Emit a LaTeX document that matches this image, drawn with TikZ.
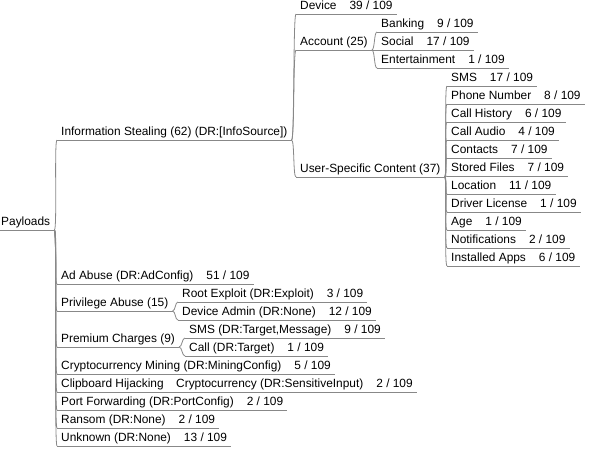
\documentclass[tikz,border=0pt]{standalone}
\usepackage{fontspec}
\setmainfont{Liberation Sans}
\definecolor{linegray}{RGB}{136,136,136}
\newcommand\ofall[1]{\hspace{13pt}#1 / 109}

\begin{document}
\begin{tikzpicture}[
    x=1pt, y=-1pt,
    every node/.style={anchor=south west, inner xsep=4pt, inner ysep=4pt, text depth=0pt,
      font=\fontsize{11.9}{14}\selectfont},
    link/.style={draw=linegray, line width=0.8pt,
      to path={.. controls +(3,0) and +(-3,0) .. (\tikztotarget)}},
    uline/.style={draw=linegray, line width=0.8pt}
  ]
  \useasboundingbox (0,0) rectangle (595,451);

  % root
  \node (pay) at (-3,230) {Payloads};

  % information stealing
  \node (info) at (57,140) {Information Stealing (62) (DR:[InfoSource])};
  \node (dev) at (296,14) {Device\ofall{39}};
  \node (acc) at (296,50) {Account (25)};
  \node (bank) at (377,32) {Banking\ofall{9}};
  \node (soc) at (377,50) {Social\ofall{17}};
  \node (ent) at (377,68) {Entertainment\ofall{1}};
  \node (usc) at (296,177) {User-Specific Content (37)};
  \node (sms) at (447,86) {SMS\ofall{17}};
  \node (phone) at (447,104) {Phone Number\ofall{8}};
  \node (hist) at (447,122) {Call History\ofall{6}};
  \node (audio) at (447,140) {Call Audio\ofall{4}};
  \node (cont) at (447,158) {Contacts\ofall{7}};
  \node (files) at (447,176) {Stored Files\ofall{7}};
  \node (loc) at (447,194) {Location\ofall{11}};
  \node (lic) at (447,212) {Driver License\ofall{1}};
  \node (age) at (447,230) {Age\ofall{1}};
  \node (notif) at (447,248) {Notifications\ofall{2}};
  \node (apps) at (447,266) {Installed Apps\ofall{6}};

  % other payloads
  \node (ad) at (57,284) {Ad Abuse (DR:AdConfig)\ofall{51}};
  \node (priv) at (57,311) {Privilege Abuse (15)};
  \node (root) at (178,302) {Root Exploit (DR:Exploit)\ofall{3}};
  \node (admin) at (178,320) {Device Admin (DR:None)\ofall{12}};
  \node (prem) at (57,347) {Premium Charges (9)};
  \node (psms) at (185,338) {SMS (DR:Target,Message)\ofall{9}};
  \node (call) at (185,356) {Call (DR:Target)\ofall{1}};
  \node (mine) at (57,374) {Cryptocurrency Mining (DR:MiningConfig)\ofall{5}};
  \node (clip) at (57,392) {Clipboard Hijacking};
  \node (crypto) at (172,392) {Cryptocurrency (DR:SensitiveInput)\ofall{2}};
  \node (port) at (57,410) {Port Forwarding (DR:PortConfig)\ofall{2}};
  \node (ransom) at (57,428) {Ransom (DR:None)\ofall{2}};
  \node (unk) at (57,446) {Unknown (DR:None)\ofall{13}};

  % underlines
  \foreach \n in {pay,info,dev,acc,bank,soc,ent,usc,sms,phone,hist,audio,cont,files,
      loc,lic,age,notif,apps,ad,priv,root,admin,prem,psms,call,mine,clip,crypto,port,ransom,unk}
    \draw[uline] (\n.south west) -- (\n.south east);

  % connectors
  \foreach \p/\c in {pay/info,pay/ad,pay/priv,pay/prem,pay/mine,pay/clip,pay/port,pay/ransom,pay/unk,
      info/dev,info/acc,info/usc,acc/bank,acc/soc,acc/ent,
      usc/sms,usc/phone,usc/hist,usc/audio,usc/cont,usc/files,usc/loc,usc/lic,usc/age,usc/notif,usc/apps,
      priv/root,priv/admin,prem/psms,prem/call,clip/crypto}
    \draw[link] (\p.south east) to (\c.south west);
\end{tikzpicture}
\end{document}
